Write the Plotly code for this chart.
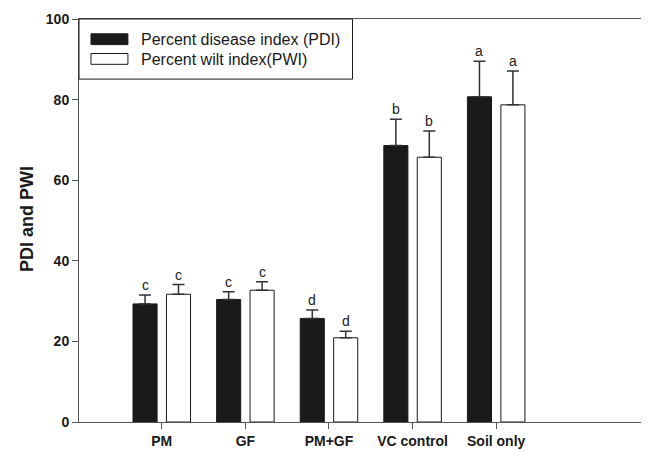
import plotly.graph_objects as go

categories = ["PM", "GF", "PM+GF", "VC control", "Soil only"]
pdi = [29.3, 30.4, 25.7, 68.6, 80.7]
pdi_err = [2.2, 1.9, 2.1, 6.5, 8.8]
pwi = [31.7, 32.7, 20.9, 65.7, 78.7]
pwi_err = [2.4, 2.1, 1.6, 6.5, 8.4]
pdi_letters = ["c", "c", "d", "b", "a"]
pwi_letters = ["c", "c", "d", "b", "a"]
y_ticks = [0, 20, 40, 60, 80, 100]

FONT = "Liberation Sans, Arial, Helvetica, sans-serif"
xs = list(range(len(categories)))
off = 0.2

fig = go.Figure()
fig.add_trace(go.Bar(
    x=xs, y=pdi, name="Percent disease index (PDI)", offsetgroup="a",
    marker=dict(color="#1a1a1a", line=dict(color="#1a1a1a", width=1)),
    error_y=dict(type="data", array=pdi_err, arrayminus=[0]*5, symmetric=False,
                 color="#333333", thickness=1.5, width=6),
    showlegend=False))
fig.add_trace(go.Bar(
    x=xs, y=pwi, name="Percent wilt index(PWI)", offsetgroup="b",
    marker=dict(color="white", line=dict(color="#1a1a1a", width=1)),
    error_y=dict(type="data", array=pwi_err, arrayminus=[0]*5, symmetric=False,
                 color="#333333", thickness=1.5, width=6),
    showlegend=False))

annotations = []
for i in xs:
    annotations.append(dict(x=i - off, y=pdi[i] + pdi_err[i], text=pdi_letters[i],
                            showarrow=False, yanchor="bottom", yshift=0,
                            font=dict(family=FONT, size=14, color="#1a1a1a")))
    annotations.append(dict(x=i + off, y=pwi[i] + pwi_err[i], text=pwi_letters[i],
                            showarrow=False, yanchor="bottom", yshift=0,
                            font=dict(family=FONT, size=14, color="#1a1a1a")))

# page body has an 8px margin; figure sized to fill the rest of the window
OFF = 8
W, H = 649 - OFF, 452 - OFF
ml, mr, mt, mb = 79 - OFF, 3, 17 - OFF, 26
pw, ph = W - ml - mr, H - mt - mb
def px(x): return (x - OFF - ml) / pw
def py(y): return 1 - (y - OFF - mt) / ph

shapes = [
    dict(type="rect", xref="paper", yref="paper", x0=px(79), x1=px(353), y0=py(78), y1=1,
         line=dict(color="#1a1a1a", width=1), fillcolor="white", layer="above"),
    dict(type="rect", xref="paper", yref="paper", x0=px(91), x1=px(128), y0=py(43), y1=py(32),
         line=dict(color="#1a1a1a", width=1), fillcolor="#1a1a1a", layer="above"),
    dict(type="rect", xref="paper", yref="paper", x0=px(91), x1=px(128), y0=py(63), y1=py(52),
         line=dict(color="#1a1a1a", width=1), fillcolor="white", layer="above"),
]
annotations.append(dict(xref="paper", yref="paper", x=px(139), y=py(37.5), text="Percent disease index (PDI)",
                        showarrow=False, xanchor="left", yanchor="middle",
                        font=dict(family=FONT, size=16, color="#1a1a1a")))
annotations.append(dict(xref="paper", yref="paper", x=px(139), y=py(58), text="Percent wilt index(PWI)",
                        showarrow=False, xanchor="left", yanchor="middle",
                        font=dict(family=FONT, size=16, color="#1a1a1a")))
# y axis title
annotations.append(dict(xref="paper", yref="paper", x=px(27), y=py(220), text="<b>PDI and PWI</b>",
                        textangle=-90, showarrow=False, xanchor="center", yanchor="middle",
                        font=dict(family=FONT, size=18, color="#1a1a1a")))

fig.update_layout(
    width=W, height=H,
    margin=dict(l=ml, r=mr, t=mt, b=mb, pad=0),
    paper_bgcolor="white", plot_bgcolor="white",
    barmode="group", bargap=0.2, bargroupgap=0.28,
    shapes=shapes, annotations=annotations,
    font=dict(family=FONT, color="#1a1a1a"),
    xaxis=dict(range=[-0.99, 5.78], tickmode="array", tickvals=xs,
               ticktext=["<b>%s</b>" % c for c in categories],
               tickfont=dict(size=14, family=FONT, color="#1a1a1a"),
               ticks="outside", ticklen=6, tickcolor="#555555",
               showline=True, linecolor="#555555", linewidth=1, mirror=True,
               showgrid=False, zeroline=False),
    yaxis=dict(range=[0, 100], tickvals=y_ticks,
               ticktext=["<b>%d</b>" % v for v in y_ticks],
               tickfont=dict(size=14, family=FONT, color="#1a1a1a"),
               ticks="outside", ticklen=6, tickcolor="#555555",
               showline=True, linecolor="#555555", linewidth=1, mirror=True,
               showgrid=False, zeroline=False),
)

fig.write_html("out.html")
